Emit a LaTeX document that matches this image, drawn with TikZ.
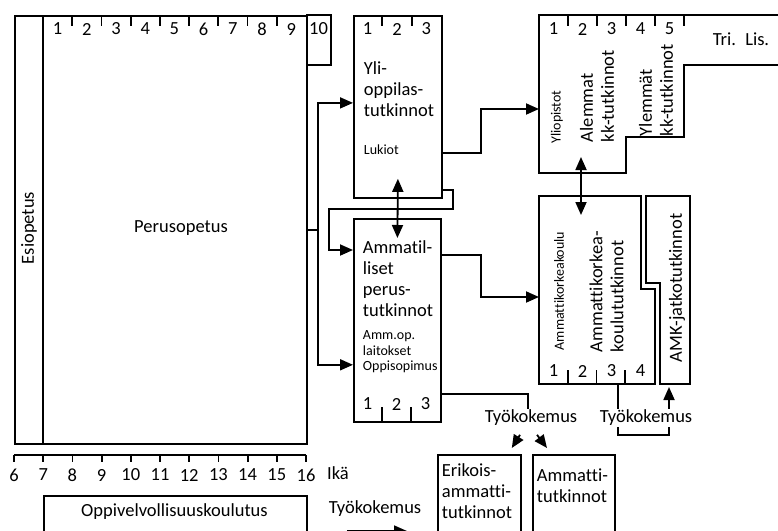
\documentclass[tikz,border=0pt]{standalone}
\usepackage{fontspec}
\setmainfont{Carlito}[Ligatures=NoCommon]
\usetikzlibrary{arrows.meta}

\begin{document}
\begin{tikzpicture}[
    x=1pt, y=-1pt,
    line width=1.8pt,
    every node/.style={font=\fontsize{18.5}{21}\selectfont, inner sep=0pt},
    box/.style={draw, anchor=north west},
    small/.style={font=\fontsize{14}{15.5}\selectfont},
    vtext/.style={rotate=90},
    arr/.style={-{Triangle[length=13pt,width=11pt]}},
    darr/.style={{Triangle[length=13pt,width=11pt]}-{Triangle[length=13pt,width=11pt]}}
]
    \useasboundingbox (0,0) rectangle (778,530);

    % Esiopetus ja perusopetus
    \node[box, minimum width=292pt, minimum height=428pt] (perus) at (14,15) {};
    \draw (43,15) -- (43,443);
    \draw (306,15) -- (331,15) -- (331,65) -- (306,65);
    \foreach \i in {1,...,8} \draw (43+\i*29.2,15) -- ++(0,11);
    \foreach \n in {1,...,9} \node at (43+\n*29.2-14.6,29) {\n};
    \node at (318.5,29) {10};
    \node[vtext] (esi) at (29,228) {Esiopetus};
    \node (perustxt) at (181,228) {Perusopetus};

    % Ikäakseli
    \draw (14,455) -- (306,455);
    \foreach \a [count=\k from 0] in {6,...,16} {
        \draw (14+\k*29.2,455) -- ++(0,7);
        \node at (14+\k*29.2,475) {\a};
    }
    \node (ika) at (338,473) {Ikä};

    % Oppivelvollisuuskoulutus
    \node[box, minimum width=263pt, minimum height=60pt] (oppiv) at (43,495) {};
    \node at (174.5,512) {Oppivelvollisuuskoulutus};
    \node (tyo0) at (375,509) {Työkokemus};
    \coordinate (tyo0end) at (407,531);
    \draw[arr] (tyo0end -| oppiv.east) ++(39,0) -- (tyo0end);

    % Ylioppilastutkinnot
    \node[box, minimum width=88pt, minimum height=182pt] (ylio) at (353,15) {};
    \foreach \i in {1,2} \draw (353+\i*29.3,15) -- ++(0,11);
    \foreach \n in {1,2,3} \node at (353+\n*29.3-14.65,29) {\n};
    \node[anchor=north west, align=left] at (363,61) {Yli-\\oppilas-\\tutkinnot};
    \node[small, anchor=west] at (363,150) {Lukiot};

    % Ammatilliset perustutkinnot
    \node[box, minimum width=87pt, minimum height=203pt] (ammat) at (353,218) {};
    \foreach \i in {1,2} \draw (353+\i*29,421) -- ++(0,-14);
    \foreach \n in {1,2,3} \node at (353+\n*29-14.5,404) {\n};
    \node[anchor=north west, align=left] at (362,240) {Ammatil-\\liset\\perus-\\tutkinnot};
    \node[small, anchor=north west, align=left] at (362,330) {Amm.op.\\laitokset\\Oppisopimus};

    % Yliopistot
    \draw (780,15) -- (539,15) -- (539,173) -- (626,173) -- (626,137)
        -- (684,137) -- (684,65) -- (780,65);
    \foreach \i in {1,...,5} \draw (539+\i*29,15) -- ++(0,11);
    \foreach \n in {1,...,5} \node at (539+\n*29-14.5,29) {\n};
    \node at (741,39) {Tri.\enspace Lis.};
    \node[small, vtext] at (557,117) {Yliopistot};
    \node[vtext, anchor=west, align=left] at (597,143) {Alemmat\\kk-tutkinnot};
    \node[vtext, anchor=west, align=left] at (656,137) {Ylemmät\\kk-tutkinnot};
    \coordinate (yo) at (539,109);
    \coordinate (yoin) at (581,157);

    % Ammattikorkeakoulut
    \draw (539,196) -- (641,196) -- (641,289) -- (655,289) -- (655,384)
        -- (539,384) -- cycle;
    \foreach \i in {1,2,3} \draw (539+\i*28.7,384) -- ++(0,-14);
    \foreach \n in {1,...,4} \node at (539+\n*29-14.5,371) {\n};
    \node[small, vtext] at (559,291) {Ammattikorkeakoulu};
    \node[vtext, anchor=west, align=left] at (606.5,353) {Ammattikorkea-\\koulututkinnot};
    \coordinate (amk) at (539,297);
    \coordinate (amkin) at (581,215);
    \coordinate (amkb) at (618,384);

    % AMK-jatkotutkinnot
    \draw (646,196) -- (690,196) -- (690,384) -- (660,384) -- (660,283)
        -- (646,283) -- cycle;
    \node[vtext] at (677,288) {AMK-jatkotutkinnot};
    \coordinate (jatkob) at (669,384);

    % Näyttötutkinnot
    \node[box, minimum width=83pt, minimum height=90pt] (erik) at (437,454) {};
    \node[anchor=north west, align=left] at (441,463) {Erikois-\\ammatti-\\tutkinnot};
    \node[box, minimum width=82pt, minimum height=90pt] (ammtut) at (532,454) {};
    \node[anchor=north west, align=left] at (536,468) {Ammatti-\\tutkinnot};

    % Siirtymät
    \draw[arr] (perus.east) -- ++(10,0) |- ([yshift=4pt]ylio.west);
    \draw[arr] (perus.east) -- ++(10,0) |- ([yshift=58pt]ammat.south west);
    \draw[arr] ([yshift=9pt]ylio.south east) -- ++(10,0) -- ++(0,19) -- ++(-124,0)
        |- ([yshift=-32pt]ammat.north west);
    \draw[darr] ([yshift=20pt]ylio.south) -- ([yshift=-20pt]ammat.north);
    \draw[arr] ([yshift=-46pt]ylio.east) -- ++(38,0) |- (yo);
    \draw[arr] ([yshift=65.5pt]ammat.east) -- ++(39,0) |- (amk);
    \draw[darr] (yoin) -- (amkin);

    % Työkokemus
    \node (tyo1) at (531,418) {Työkokemus};
    \draw ([yshift=29pt]ammat.south east) -| ([xshift=-3pt]tyo1.north);
    \draw[arr] ([xshift=-11pt,yshift=-8pt]tyo1.south) -- ([xshift=-10pt,yshift=6pt]erik.north east);
    \draw[arr] ([xshift=6pt,yshift=-8pt]tyo1.south) -- ([xshift=15pt,yshift=6pt]ammtut.north west);
    \draw[arr, shorten >=3pt] (amkb) -- ++(0,51) -| (jatkob);
    \node[fill=white, inner sep=1pt] (tyo2) at (646,418) {Työkokemus};

\end{tikzpicture}
\end{document}
